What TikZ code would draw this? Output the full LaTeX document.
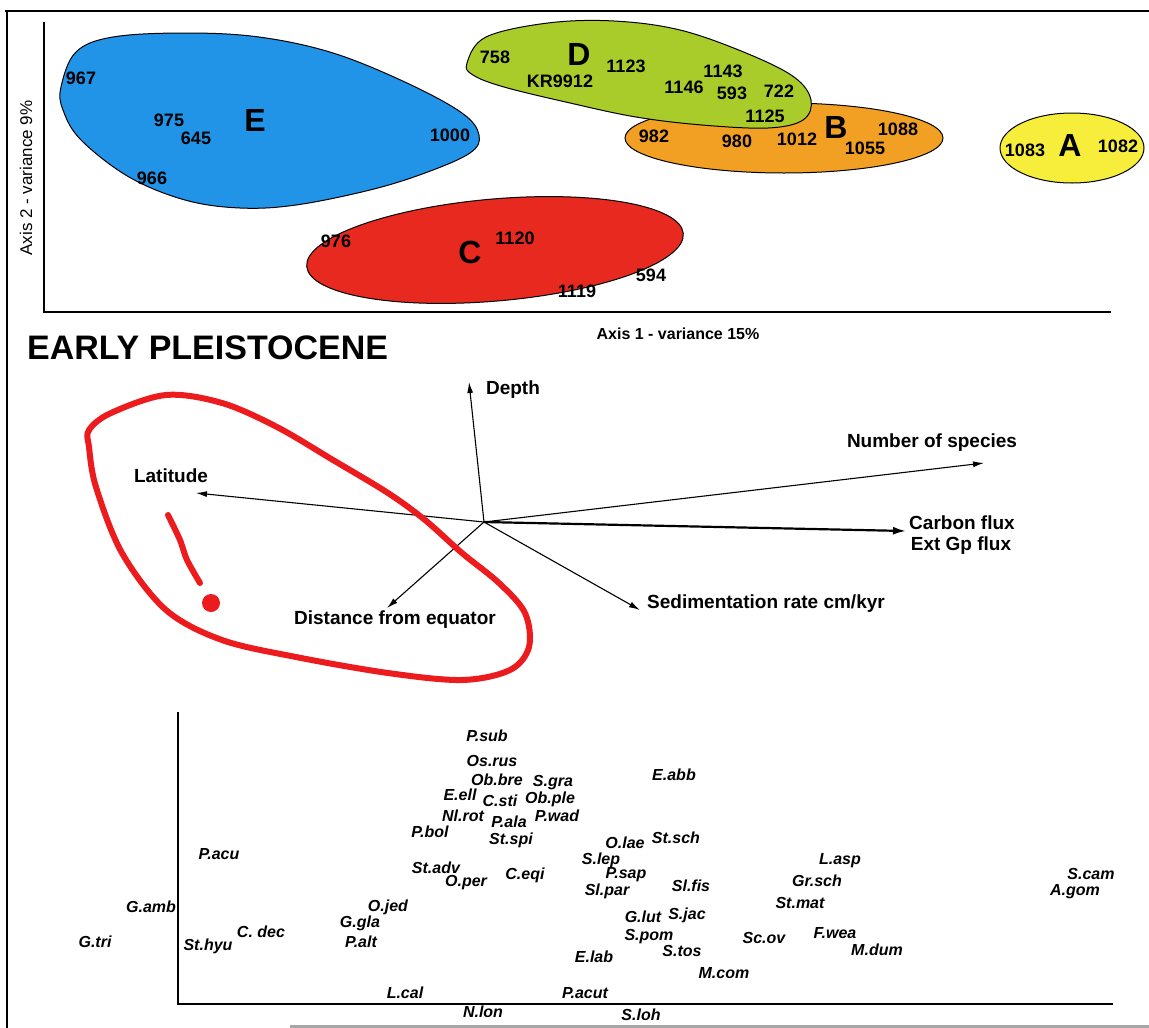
\documentclass[tikz,border=0pt]{standalone}
\usepackage{fontspec}
\setmainfont{Liberation Sans}
\usetikzlibrary{arrows.meta}
\definecolor{eblue}{HTML}{2194E8}
\definecolor{dgreen}{HTML}{A9CC2A}
\definecolor{borange}{HTML}{F2A024}
\definecolor{ayellow}{HTML}{F6EE3A}
\definecolor{cred}{HTML}{E8291F}
\definecolor{loopred}{HTML}{EC1B1E}
\tikzset{
  num/.style={font=\fontsize{18}{20}\selectfont\bfseries, inner sep=0pt},
  big/.style={font=\fontsize{32}{34}\selectfont\bfseries, inner sep=0pt},
  lab/.style={font=\fontsize{19}{21}\selectfont\bfseries, inner sep=0pt},
  spc/.style={font=\fontsize{16}{18}\selectfont\bfseries\itshape, inner sep=0pt},
  blob/.style={draw=black, line width=1pt},
  vec/.style={line width=1.1pt, -{Latex[length=11pt,width=6pt]}},
  axisline/.style={line width=1.6pt},
}
\begin{document}
\begin{tikzpicture}[x=1pt,y=-1pt]
\useasboundingbox (0,0) rectangle (1149,1028);
\fill[white] (0,0) rectangle (1149,1028);
% frame
\draw[line width=2.2pt] (5,11) -- (1149,11);
\draw[line width=2.2pt] (7,11) -- (7,1028);
\draw[line width=3pt, black!35] (290,1026.5) -- (1149,1026.5);

% ---------- top ordination plot ----------
\draw[axisline] (44,22) -- (44,312) -- (1111,312);
\node[rotate=90, inner sep=0pt, font=\fontsize{17}{19}\selectfont] (ax2) at (26,178) {Axis 2 - variance 9\%};
\node[inner sep=0pt, font=\fontsize{16}{18}\selectfont\bfseries] (ax1) at (678,334) {Axis 1 - variance 15\%};

% E
\draw[blob, fill=eblue] plot[smooth cycle, tension=0.6] coordinates {
 (61,87) (76,52) (113,37) (185,33) (259,37) (333,53) (407,83) (462,113) (479,135)
 (470,153) (425,173) (370,190) (296,205) (240,208) (185,200) (129,177) (81,140) (63,110)};
% C
\draw[blob, fill=cred] (495,250) ellipse[x radius=189, y radius=51, rotate=5];
% B
\draw[blob, fill=borange] (784,138) ellipse[x radius=159, y radius=35];
% D
\draw[blob, fill=dgreen] plot[smooth cycle, tension=0.6] coordinates {
 (467,63) (486,37) (548,23) (614,21) (680,30) (746,53) (794,77) (811,100) (803,120)
 (768,128) (702,125) (636,117) (570,103) (504,87) (473,75)};
% A
\draw[blob, fill=ayellow] (1072,148) ellipse[x radius=72, y radius=35];

% E labels
\node[num] (n967) at (81,78) {967};
\node[num] (n975) at (169,120) {975};
\node[num] (n645) at (196,138) {645};
\node[big] (gE) at (255,120) {E};
\node[num] (n1000) at (450,135) {1000};
\node[num] (n966) at (152,178) {966};
% C labels
\node[num] (n976) at (336,241) {976};
\node[big] (gC) at (470,252) {C};
\node[num] (n1120) at (515,238) {1120};
\node[num] (n594) at (651,275) {594};
\node[num] (n1119) at (577,291) {1119};
% B labels
\node[num] (n982) at (654,136) {982};
\node[num] (n980) at (737,141) {980};
\node[num] (n1012) at (797,139) {1012};
\node[big] (gB) at (836,127) {B};
\node[num] (n1088) at (898,129) {1088};
\node[num] (n1055) at (865,148) {1055};
% D labels
\node[num] (n758) at (495,57) {758};
\node[big] (gD) at (579,54) {D};
\node[num] (nKR) at (560,81) {KR9912};
\node[num] (n1123) at (626,66) {1123};
\node[num] (n1143) at (723,71) {1143};
\node[num] (n1146) at (684,87) {1146};
\node[num] (n593) at (732,93) {593};
\node[num] (n722) at (779,91) {722};
\node[num] (n1125) at (765,116) {1125};
% A labels
\node[num] (n1083) at (1025,150) {1083};
\node[big] (gA) at (1070,145) {A};
\node[num] (n1082) at (1118,146) {1082};

% ---------- biplot ----------
\node[anchor=west, inner sep=0pt, font=\fontsize{34}{36}\selectfont\bfseries] (title) at (27,348) {EARLY PLEISTOCENE};

\coordinate (o) at (484,522);
\coordinate (tDepth) at (469,382);
\coordinate (tLat) at (196,493);
\coordinate (tNum) at (984,463);
\coordinate (tCarb) at (906,531);
\coordinate (tSed) at (640,610);
\coordinate (tDist) at (387,608);

\draw[vec] (o) -- (tDepth);
\draw[vec] (o) -- (tLat);
\draw[vec] (o) -- (tNum);
\draw[line width=2.2pt, -{Latex[length=13pt,width=8pt]}] (o) -- (tCarb);
\draw[vec] (o) -- (tSed);
\draw[vec] (o) -- (tDist);

\node[lab] (lDepth) at (513,390) {Depth};
\node[lab] (lLat) at (171,476) {Latitude};
\node[lab] (lNum) at (932,443) {Number of species};
\node[lab] (lCarb) at (962,523) {Carbon flux};
\node[lab] (lExt) at (961,546) {Ext Gp flux};
\node[lab] (lSed) at (766,604) {Sedimentation rate cm/kyr};
\node[lab] (lDist) at (395,620) {Distance from equator};

% red hand-drawn annotation
\draw[loopred, line width=6pt, line cap=round, line join=round] plot[smooth cycle, tension=0.55] coordinates {
 (89,430) (111,413) (166,395) (222,403) (277,427) (333,460) (388,493) (425,520)
 (462,553) (499,583) (525,613) (529,647) (510,670) (462,680) (388,673) (296,657)
 (222,640) (166,610) (122,553) (96,487) (89,447)};
\draw[loopred, line width=6pt, line cap=round] plot[smooth] coordinates {(168,515) (180,540) (187,560) (200,583)};
\fill[loopred] (211,603) circle[radius=9];

% ---------- species plot ----------
\draw[axisline] (178,712) -- (178,1004) -- (1113,1004);

\node[spc] (s1) at (487,736) {P.sub};
\node[spc] (s2) at (492,761) {Os.rus};
\node[spc] (s3) at (497,780) {Ob.bre};
\node[spc] (s4) at (553,783) {S.gra};
\node[spc] (s5) at (460,795) {E.ell};
\node[spc] (s6) at (500,801) {C.sti};
\node[spc] (s7) at (550,799) {Ob.ple};
\node[spc] (s8) at (463,816) {Nl.rot};
\node[spc] (s9) at (509,822) {P.ala};
\node[spc] (s10) at (557,816) {P.wad};
\node[spc] (s11) at (430,832) {P.bol};
\node[spc] (s12) at (511,840) {St.spi};
\node[spc] (s13) at (219,854) {P.acu};
\node[spc] (s14) at (436,868) {St.adv};
\node[spc] (s15) at (466,883) {O.per};
\node[spc] (s16) at (525,875) {C.eqi};
\node[spc] (s17) at (388,907) {O.jed};
\node[spc] (s18) at (151,907) {G.amb};
\node[spc] (s19) at (360,923) {G.gla};
\node[spc] (s20) at (261,932) {C. dec};
\node[spc] (s21) at (95,942) {G.tri};
\node[spc] (s22) at (208,946) {St.hyu};
\node[spc] (s23) at (361,942) {P.alt};
\node[spc] (s24) at (405,993) {L.cal};
\node[spc] (s25) at (483,1012) {N.lon};
\node[spc] (s26) at (594,957) {E.lab};
\node[spc] (s27) at (585,993) {P.acut};
\node[spc] (s28) at (674,775) {E.abb};
\node[spc] (s29) at (625,843) {O.lae};
\node[spc] (s30) at (676,838) {St.sch};
\node[spc] (s31) at (601,860) {S.lep};
\node[spc] (s32) at (626,875) {P.sap};
\node[spc] (s33) at (607,891) {Sl.par};
\node[spc] (s34) at (691,886) {Sl.fis};
\node[spc] (s35) at (840,861) {L.asp};
\node[spc] (s36) at (817,881) {Gr.sch};
\node[spc] (s37) at (800,903) {St.mat};
\node[spc] (s38) at (643,917) {G.lut};
\node[spc] (s39) at (687,915) {S.jac};
\node[spc] (s40) at (649,937) {S.pom};
\node[spc] (s41) at (764,938) {Sc.ov};
\node[spc] (s42) at (835,933) {F.wea};
\node[spc] (s43) at (877,950) {M.dum};
\node[spc] (s44) at (682,951) {S.tos};
\node[spc] (s45) at (724,973) {M.com};
\node[spc] (s46) at (641,1015) {S.loh};
\node[spc] (s47) at (1091,874) {S.cam};
\node[spc] (s48) at (1075,892) {A.gom};
\end{tikzpicture}
\end{document}
